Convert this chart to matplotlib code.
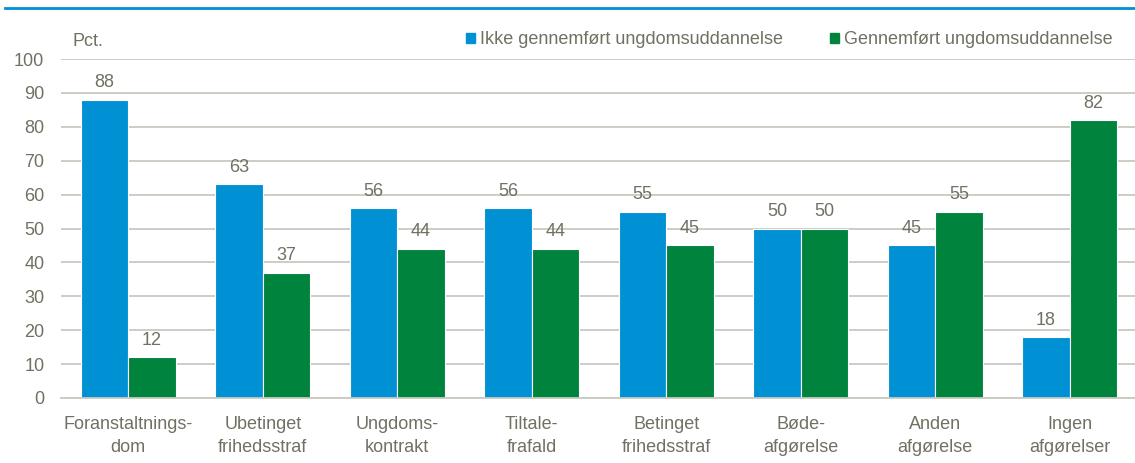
import matplotlib
matplotlib.use("Agg")
import matplotlib.pyplot as plt
import numpy as np
from matplotlib.lines import Line2D

categories = ["Foranstaltnings-\ndom", "Ubetinget\nfrihedsstraf", "Ungdoms-\nkontrakt",
              "Tiltale-\nfrafald", "Betinget\nfrihedsstraf", "Bøde-\nafgørelse",
              "Anden\nafgørelse", "Ingen\nafgørelser"]
ikke_gennemfoert = [88, 63, 56, 56, 55, 50, 45, 18]
gennemfoert = [12, 37, 44, 44, 45, 50, 55, 82]
series_names = ["Ikke gennemført ungdomsuddannelse", "Gennemført ungdomsuddannelse"]

blue = "#0091d5"
green = "#00843d"
text_col = "#707063"
grid_col = "#c9c9c1"

plt.rcParams['font.family'] = ['Liberation Sans', 'DejaVu Sans']

fig = plt.figure(figsize=(11.35, 4.63), dpi=100)
ax = fig.add_axes([61 / 1135, 1 - 398 / 463, 1076 / 1135, 339 / 463])

x = np.arange(len(categories))
w = 0.355
b1 = ax.bar(x - w / 2, ikke_gennemfoert, w, color=blue, edgecolor="white", linewidth=0.8)
b2 = ax.bar(x + w / 2, gennemfoert, w, color=green, edgecolor="white", linewidth=0.8)

for bars, vals in [(b1, ikke_gennemfoert), (b2, gennemfoert)]:
    for rect, v in zip(bars, vals):
        ax.text(rect.get_x() + rect.get_width() / 2, v + 2.5, str(v),
                ha="center", va="bottom", fontsize=13, color=text_col)

ax.set_xlim(-0.5, len(categories) - 0.5)
ax.set_ylim(0, 100)
ax.set_yticks(range(0, 101, 10))
ax.set_xticks(x)
ax.set_xticklabels(categories, fontsize=13, color=text_col, linespacing=1.45)
ax.tick_params(axis="y", labelsize=13, labelcolor=text_col, length=0, pad=12)
ax.tick_params(axis="x", length=0, pad=13)
ax.yaxis.grid(True, color=grid_col, linewidth=1.3)
ax.set_axisbelow(True)
for s in ["top", "right", "left"]:
    ax.spines[s].set_visible(False)
ax.spines["bottom"].set_color(grid_col)
ax.spines["bottom"].set_linewidth(1.3)

fig.text(72 / 1135, 1 - 42 / 463, "Pct.", fontsize=13, color=text_col, va="center")

handles = [plt.Rectangle((0, 0), 1, 1, color=blue), plt.Rectangle((0, 0), 1, 1, color=green)]
leg = fig.legend(handles, series_names, loc="center right", bbox_to_anchor=(1122 / 1135, 1 - 40 / 463),
                 ncol=2, frameon=False, fontsize=13, handlelength=0.5, handleheight=0.5,
                 handletextpad=0.3, columnspacing=2.6, borderpad=0)
for t in leg.get_texts():
    t.set_color(text_col)

fig.add_artist(Line2D([5 / 1135, 1], [1 - 8 / 463, 1 - 8 / 463], color=blue, linewidth=2,
                      transform=fig.transFigure))

fig.savefig("out.png", dpi=100)
